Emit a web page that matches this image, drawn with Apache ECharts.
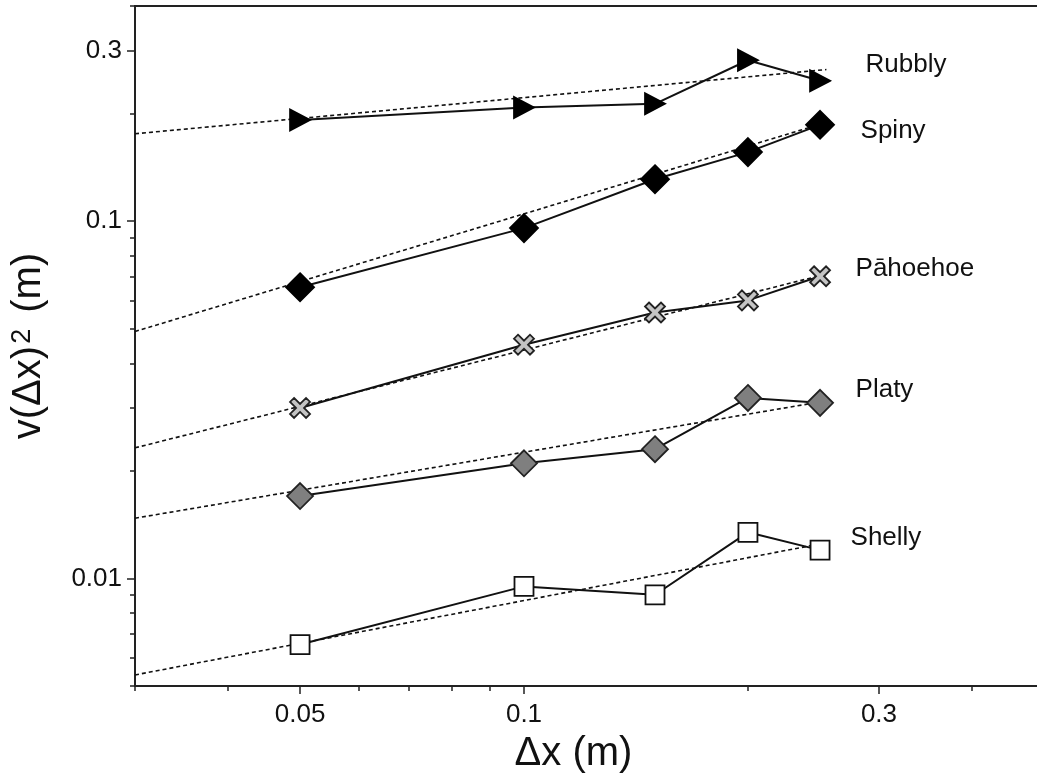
<!DOCTYPE html>
<html>
<head>
<meta charset="utf-8">
<script src="https://cdn.jsdelivr.net/npm/echarts@6/dist/echarts.min.js"></script>
<style>
  html, body { margin: 0; padding: 0; background: #fff; }
  #chart { width: 1037px; height: 779px; }
</style>
</head>
<body>
<div id="chart"></div>
<script>
// step sizes (m) shared by every surface type
const xValues = [0.05, 0.1, 0.15, 0.2, 0.25]

// v(Δx)^2 per surface type
const rubbly = [0.192, 0.208, 0.213, 0.282, 0.247]
const spiny = [0.0653, 0.0956, 0.131, 0.156, 0.186]
const pahoehoe = [0.0300, 0.0451, 0.0555, 0.0600, 0.0701]
const platy = [0.0170, 0.0210, 0.0230, 0.0320, 0.0310]
const shelly = [0.00653, 0.0095, 0.0090, 0.01346, 0.0120]

const fitX = [0.03, 0.255]
const rubblyFit = [0.1756, 0.2656]
const spinyFit = [0.0491, 0.189]
const pahoehoeFit = [0.0232, 0.0711]
const platyFit = [0.01474, 0.0314]
const shellyFit = [0.00537, 0.01259]

// tick values
const xTickLabels = [0.05, 0.1, 0.3]
const xMinorTicks = [0.03, 0.04, 0.06, 0.07, 0.08, 0.09, 0.2, 0.4, 0.5]
const yTickLabels = [0.01, 0.1, 0.3]
const yMinorTicks = [0.005, 0.006, 0.007, 0.008, 0.009, 0.02, 0.03, 0.04, 0.05, 0.06, 0.07, 0.08, 0.09, 0.2, 0.4]

const FONT = 'Liberation Sans'
const INK = '#111'

const crossPath = 'path://M2 0L5 3L8 0L10 2L7 5L10 8L8 10L5 7L2 10L0 8L3 5L0 2Z'

const pairs = (xs, ys) => xs.map((x, i) => [x, ys[i]])

// plot area runs a few px past the right edge of the page, like the original
const gridRect = { left: 135, top: 6, width: 909, height: 680, outerBoundsMode: 'none' }

const logAxis = (min, max) => ({
  type: 'log',
  logBase: 10,
  min: min,
  max: max,
  splitLine: { show: false }
})

// one series of observed points + the type name next to its last point
const dataSeries = (name, ys, symbol, size, rotate, fill, border, labelOffset) => ({
  name: name,
  type: 'line',
  xAxisIndex: 0,
  yAxisIndex: 0,
  data: pairs(xValues, ys),
  symbol: symbol,
  symbolSize: size,
  symbolRotate: rotate,
  z: 3,
  lineStyle: { color: INK, width: 2 },
  itemStyle: { color: fill, borderColor: border, borderWidth: 1.8, opacity: 1 },
  markPoint: {
    symbol: 'circle',
    symbolSize: 1,
    itemStyle: { color: 'rgba(0,0,0,0)' },
    label: {
      show: true,
      position: 'right',
      distance: 0,
      offset: labelOffset,
      formatter: name,
      fontFamily: FONT,
      fontSize: 26,
      color: INK
    },
    data: [{ coord: [xValues[xValues.length - 1], ys[ys.length - 1]] }]
  }
})

const fitSeries = (ys) => ({
  type: 'line',
  xAxisIndex: 0,
  yAxisIndex: 0,
  data: pairs(fitX, ys),
  symbol: 'none',
  z: 2,
  lineStyle: { color: INK, width: 1.6, type: [4, 3] }
})

const chart = echarts.init(document.getElementById('chart'), null, { renderer: 'canvas' })

chart.setOption({
  animation: false,
  backgroundColor: '#fff',
  grid: [
    Object.assign({ show: true, borderColor: '#222', borderWidth: 2 }, gridRect),
    Object.assign({}, gridRect)
  ],
  xAxis: [
    Object.assign(logAxis(0.03, 0.5), {
      gridIndex: 0,
      name: 'Δx (m)',
      nameLocation: 'middle',
      nameGap: 48,
      nameTextStyle: { fontFamily: FONT, fontSize: 40, color: INK, padding: [0, 32, 0, 0] },
      axisLine: { lineStyle: { color: '#222', width: 2 } },
      axisTick: { customValues: xTickLabels, length: 8, lineStyle: { color: '#222', width: 1.5 } },
      axisLabel: {
        customValues: xTickLabels,
        margin: 16,
        fontFamily: FONT,
        fontSize: 26,
        color: INK,
        formatter: (v) => String(v)
      }
    }),
    Object.assign(logAxis(0.03, 0.5), {
      gridIndex: 1,
      axisLine: { show: false },
      axisTick: { customValues: xMinorTicks, length: 5, lineStyle: { color: '#222', width: 1.5 } },
      axisLabel: { show: false }
    })
  ],
  yAxis: [
    Object.assign(logAxis(0.005, 0.4), {
      gridIndex: 0,
      name: '{a|v(Δx)}{s|2}{a| (m)}',
      nameLocation: 'middle',
      nameGap: 86,
      nameTextStyle: {
        color: INK,
        rich: {
          a: { fontFamily: FONT, fontSize: 40, color: INK },
          s: { fontFamily: FONT, fontSize: 27, color: INK, verticalAlign: 'top', padding: [0, 5, 0, 2] }
        }
      },
      axisLine: { lineStyle: { color: '#222', width: 2 } },
      axisTick: { customValues: yTickLabels, length: 8, lineStyle: { color: '#222', width: 1.5 } },
      axisLabel: {
        customValues: yTickLabels,
        margin: 13,
        fontFamily: FONT,
        fontSize: 26,
        color: INK,
        formatter: (v) => String(v)
      }
    }),
    Object.assign(logAxis(0.005, 0.4), {
      gridIndex: 1,
      axisLine: { show: false },
      axisTick: { customValues: yMinorTicks, length: 5, lineStyle: { color: '#222', width: 1.5 } },
      axisLabel: { show: false }
    })
  ],
  series: [
    fitSeries(rubblyFit),
    fitSeries(spinyFit),
    fitSeries(pahoehoeFit),
    fitSeries(platyFit),
    fitSeries(shellyFit),
    dataSeries('Rubbly', rubbly, 'triangle', [21, 20], -90, '#000', '#000', [45, -16]),
    dataSeries('Spiny', spiny, 'diamond', 28, 0, '#000', '#000', [40, 6]),
    dataSeries('Pāhoehoe', pahoehoe, crossPath, 20, 0, '#c4c4c4', '#222', [35, -7]),
    dataSeries('Platy', platy, 'diamond', 26, 0, '#7f7f7f', '#222', [35, -13]),
    dataSeries('Shelly', shelly, 'rect', 19, 0, '#fff', '#111', [30, -12])
  ]
})

window.addEventListener('resize', () => chart.resize())
</script>
</body>
</html>
